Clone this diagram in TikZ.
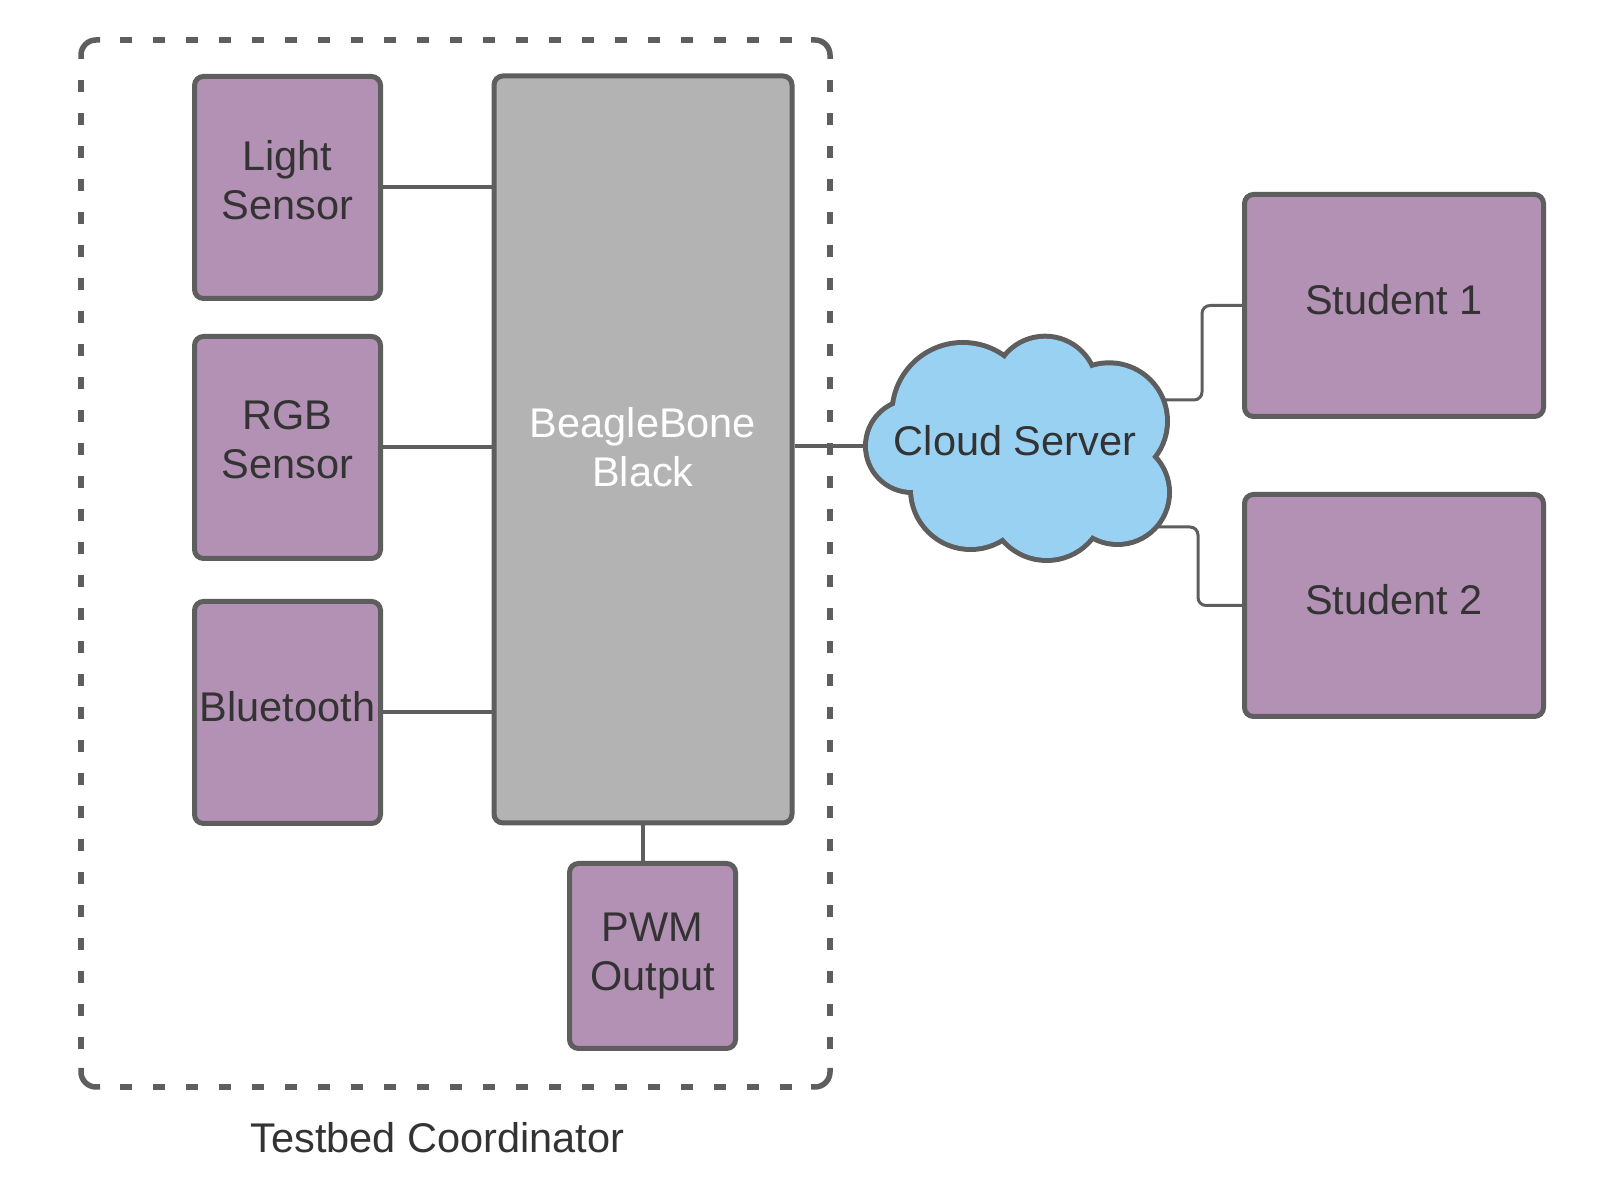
\documentclass[tikz,border=0pt]{standalone}
\usepackage{fontspec}
\setmainfont{Liberation Sans}
\usetikzlibrary{backgrounds,calc}
\definecolor{bd}{HTML}{5E5E5E}
\definecolor{purp}{HTML}{B391B4}
\definecolor{grayf}{HTML}{B3B3B3}
\definecolor{cloudf}{HTML}{99D1F2}
\definecolor{txt}{HTML}{333333}
\begin{document}
\begin{tikzpicture}[x=1pt,y=1pt,
  box/.style={draw=bd,line width=5pt,fill=purp,rounded corners=9pt,inner sep=0pt,align=center,text=txt,font=\fontsize{41.5}{49}\selectfont,text depth=12pt},
  conn/.style={draw=bd,line width=4pt},
  thinconn/.style={draw=bd,line width=3pt,rounded corners=8pt},
  tbline/.style={draw=bd,line width=5.5pt},
  tbdash/.style={tbline,dash pattern=on 12pt off 21pt},
  lbl/.style={text=txt,font=\fontsize{41.5}{49}\selectfont,inner sep=0pt}]
\useasboundingbox (0,0) rectangle (1605,1193);

% dashed container
\node[draw=none,outer sep=0pt,inner sep=0pt,minimum width=749pt,minimum height=1047pt] (tb) at (455.5,629.5) {};
\draw[tbline,rounded corners=15pt] ($(tb.north west)+(0,-19)$) -- (tb.north west) -- ($(tb.north west)+(19,0)$);
\draw[tbline,rounded corners=15pt] ($(tb.north east)+(-19,0)$) -- (tb.north east) -- ($(tb.north east)+(0,-19)$);
\draw[tbline,rounded corners=15pt] ($(tb.south east)+(0,19)$) -- (tb.south east) -- ($(tb.south east)+(-19,0)$);
\draw[tbline,rounded corners=15pt] ($(tb.south west)+(19,0)$) -- (tb.south west) -- ($(tb.south west)+(0,19)$);
\draw[tbdash] ($(tb.north west)+(39,0)$) -- ($(tb.north east)+(-36,0)$);
\draw[tbdash] ($(tb.south west)+(39,0)$) -- ($(tb.south east)+(-36,0)$);
\draw[tbdash] ($(tb.north west)+(0,-40)$) -- ($(tb.south west)+(0,36)$);
\draw[tbdash] ($(tb.north east)+(0,-40)$) -- ($(tb.south east)+(0,36)$);
\node[lbl,anchor=base] (tbl) at (437.5,40) {Testbed Coordinator};

% boxes
\node[box,text depth=16pt,minimum width=186pt,minimum height=222pt] (light) at (287.5,1005.5) {Light\\Sensor};
\node[box,text depth=15pt,minimum width=186pt,minimum height=222pt] (rgb) at (287.5,745.5) {RGB\\Sensor};
\node[box,minimum width=186pt,minimum height=222pt] (bt) at (287.5,480.5) {Bluetooth};
\node[box,fill=grayf,text=white,text depth=6pt,minimum width=298pt,minimum height=747pt] (bbb) at (643,743.5) {BeagleBone\\Black};
\node[box,text depth=8pt,minimum width=166pt,minimum height=185pt] (pwm) at (652.5,237) {PWM\\Output};
\node[box,minimum width=299pt,minimum height=222pt] (s1) at (1394,887.5) {Student 1};
\node[box,minimum width=299pt,minimum height=222pt] (s2) at (1394,587.5) {Student 2};

% cloud
\coordinate (cloudL) at (868,747);
\coordinate (cloudR1) at (1158,793);
\coordinate (cloudR2) at (1150,666);
\draw[bd,line width=10pt]
  (962.9,779.6) circle[radius=68.4]
  (1045,804.5) circle[radius=49.8]
  (1109.1,771.8) circle[radius=55.9]
  (1117.5,700.5) circle[radius=49.5]
  (1046.7,691) circle[radius=56]
  (970.6,703.6) circle[radius=57.6]
  (912,747) circle[radius=44];
\fill[cloudf]
  (962.9,779.6) circle[radius=68.4]
  (1045,804.5) circle[radius=49.8]
  (1109.1,771.8) circle[radius=55.9]
  (1117.5,700.5) circle[radius=49.5]
  (1046.7,691) circle[radius=56]
  (970.6,703.6) circle[radius=57.6]
  (912,747) circle[radius=44];
\fill[cloudf] (895,788) -- (1003,832) -- (1092,822) -- (1152,736) -- (1092,658) -- (1003,656) -- (913,703) -- cycle;
\node[lbl,anchor=base] (cloud) at (1015,737) {Cloud Server};

% connectors
\begin{scope}[on background layer]
\fill[white] (0,0) rectangle (1605,1193);
\draw[conn] (light.east) -- (light.east -| bbb.west);
\draw[conn] (rgb.east) -- (rgb.east -| bbb.west);
\draw[conn] (bt.east) -- (bt.east -| bbb.west);
\draw[conn] (bbb.south) -- (bbb.south |- pwm.north);
\draw[conn] (cloudL -| bbb.east) -- (cloudL);
\draw[thinconn] (cloudR1) -- ++(44,0) |- (s1.west);
\draw[thinconn] (cloudR2) -- ++(48,0) |- (s2.west);
\end{scope}
\end{tikzpicture}
\end{document}
